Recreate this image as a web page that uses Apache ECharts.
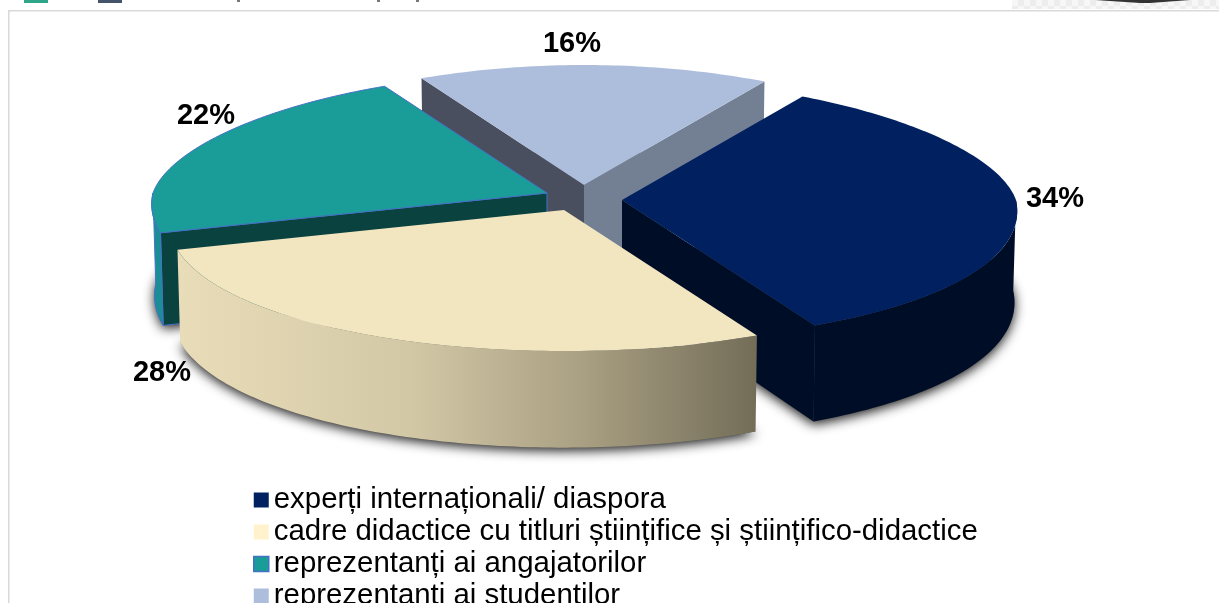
<!DOCTYPE html>
<html>
<head>
<meta charset="utf-8">
<style>
  html, body { margin: 0; padding: 0; background: #fff; overflow: hidden; }
  /* mai inalt decat fereastra: ultimul rand din legenda trebuie sa iasa taiat */
  #main { width: 1219px; height: 660px; }
</style>
<script src="https://cdn.jsdelivr.net/npm/echarts@6/dist/echarts.min.js"></script>
</head>
<body>
<div id="main"></div>
<script>
var categories = ['experți internaționali/ diaspora', 'cadre didactice cu titluri științifice și științifico-didactice', 'reprezentanți ai angajatorilor', 'reprezentanți ai studenților'];
var shares = [34, 28, 22, 16];
var topColors = ['#002060', '#F2E6C0', '#1A9C98', '#ADBEDC'];

// geometria "3D": elipsa cu perspectiva (spate mai turtit si mai ingust decat fata)
var startAngle = 30.4;
var rx = 394, ryFront = 141, ryBack = 120;
var backNarrow = 0.11, frontWiden = 0.08;
var sliceStyle = [
  { apex: [622, 200], label: [1055, 197], side: '#000D26', wallStart: null, wallEnd: '#000D26' },
  { apex: [564, 210], label: [162, 371], side: { type: 'linear', x: 0, y: 0, x2: 1, y2: 0, colorStops: [
      { offset: 0, color: '#E9DDB9' }, { offset: 0.4, color: '#D3C8A6' }, { offset: 0.7, color: '#A99F82' }, { offset: 1, color: '#736D58' }] },
    wallStart: null, wallEnd: null },
  { apex: [547, 193], label: [206, 114], side: '#1A8E96', wallStart: '#0A4240', wallEnd: null, edge: '#4472C4' },
  { apex: [584, 185], label: [572, 42], side: null, wallStart: '#4A4F60', wallEnd: '#738094' }
];

function sum(arr) { return arr.reduce(function (a, b) { return a + b; }, 0); }

function rimPoint(apex, deg, lower) {
  var r = deg * Math.PI / 180;
  var c = Math.cos(r);
  var relY = c > 0 ? -c * ryBack : -c * ryFront;
  var widen = c > 0 ? 1 - backNarrow * c : 1 - frontWiden * c;
  var down = lower ? 91 + relY * 0.04 : 0;
  return [apex[0] + Math.sin(r) * rx * widen * (lower ? 0.993 : 1), apex[1] + relY + down];
}

function arc(apex, from, to, lower) {
  var pts = [];
  for (var a = from; a < to; a += 1) { pts.push(rimPoint(apex, a, lower)); }
  pts.push(rimPoint(apex, to, lower));
  return pts;
}

function wall(apex, bot, deg, fill, line) {
  return { type: 'polygon', shape: { points: [apex, rimPoint(apex, deg, false), rimPoint(apex, deg, true), bot] },
    style: Object.assign({ fill: fill }, line) };
}

function makeSlice(idx) {
  return function (params, api) {
    var st = sliceStyle[idx];
    var total = sum(shares);
    var a0 = startAngle + sum(shares.slice(0, idx)) / total * 360;
    var a1 = a0 + api.value(0) / total * 360;
    var bot = [st.apex[0], st.apex[1] + 91];
    var line = st.edge ? { stroke: st.edge, lineWidth: 1 } : { lineWidth: 0 };
    var child = [];
    // umbra de sub felie
    child.push({ type: 'polygon', shape: { points: [bot].concat(arc(st.apex, a0, a1, true)) },
      style: { fill: '#555', shadowColor: 'rgba(0,0,0,0.9)', shadowBlur: 12, shadowOffsetY: 3 } });
    if (st.wallStart) { child.push(wall(st.apex, bot, a0, st.wallStart, line)); }
    if (st.wallEnd) { child.push(wall(st.apex, bot, a1, st.wallEnd, line)); }
    // doar jumatatea din fata a peretelui curb se vede
    var f0 = Math.max(a0, 90), f1 = Math.min(a1, 270);
    if (st.side && f1 > f0) {
      child.push({ type: 'polygon',
        shape: { points: arc(st.apex, f0, f1, false).concat(arc(st.apex, f0, f1, true).reverse()) },
        style: Object.assign({ fill: st.side }, line) });
    }
    child.push({ type: 'polygon', shape: { points: [st.apex].concat(arc(st.apex, a0, a1, false)) },
      style: Object.assign({ fill: topColors[idx] }, line) });
    child.push({ type: 'text', x: st.label[0], y: st.label[1] + 2,
      style: { text: api.value(0) + '%', fill: '#000', font: 'bold 29px "Liberation Sans"', align: 'center', verticalAlign: 'middle' } });
    return { type: 'group', children: child };
  };
}

// resturile de sus din slide: fundal in carouri, colorate pale
var checks = [];
for (var cx = 1012; cx < 1219; cx += 6) {
  for (var cy = 0; cy < 9; cy += 6) {
    var odd = (Math.round((cx - 1012) / 6) + cy / 6) % 2;
    checks.push({ type: 'rect', silent: true, shape: { x: cx, y: cy, width: 6, height: Math.min(6, 9 - cy) },
      style: { fill: odd ? '#EDEDED' : '#F7F7F7' } });
  }
}

// ordinea de desen: din spate in fata
var drawOrder = [3, 2, 0, 1];

var chart = echarts.init(document.getElementById('main'), null, { renderer: 'canvas' });
chart.setOption({
  animation: false,
  backgroundColor: '#fff',
  legend: {
    orient: 'vertical',
    left: 248,
    top: 480,
    itemWidth: 15,
    itemHeight: 15,
    itemGap: 2,
    selectedMode: false,
    textStyle: { fontFamily: 'Liberation Sans', fontSize: 29.4, color: '#000', lineHeight: 30 },
    data: categories.map(function (name, i) {
      var item = { name: name, icon: 'rect', itemStyle: { color: i === 1 ? '#FFF2CC' : topColors[i] } };
      if (i === 2) { item.itemStyle.borderColor = '#4472C4'; item.itemStyle.borderWidth = 1.5; }
      return item;
    })
  },
  graphic: checks.concat([
    { type: 'polygon', silent: true, shape: { points: [[1095, 0], [1190, 0], [1150, 3], [1140, 3]] }, style: { fill: '#333' } },
    { type: 'rect', silent: true, shape: { x: 8, y: 10, width: 1211, height: 1.5 }, style: { fill: '#D9D9D9' } },
    { type: 'rect', silent: true, shape: { x: 8, y: 10, width: 1.5, height: 600 }, style: { fill: '#D9D9D9' } },
    { type: 'rect', silent: true, shape: { x: 24, y: 0, width: 24, height: 3 }, style: { fill: '#2FA58A' } },
    { type: 'rect', silent: true, shape: { x: 98, y: 0, width: 24, height: 3 }, style: { fill: '#44546A' } },
    { type: 'rect', silent: true, shape: { x: 237, y: 0, width: 3, height: 2 }, style: { fill: '#777' } },
    { type: 'rect', silent: true, shape: { x: 377, y: 0, width: 3, height: 2 }, style: { fill: '#777' } },
    { type: 'rect', silent: true, shape: { x: 416, y: 0, width: 3, height: 2 }, style: { fill: '#777' } }
  ]),
  series: drawOrder.map(function (idx) {
    return {
      type: 'custom',
      name: categories[idx],
      coordinateSystem: 'none',
      silent: true,
      itemStyle: { color: topColors[idx] },
      data: [[shares[idx]]],
      renderItem: makeSlice(idx)
    };
  })
});
</script>
</body>
</html>
